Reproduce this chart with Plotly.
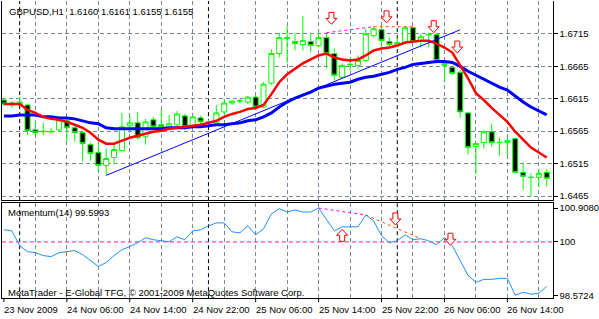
import plotly.graph_objects as go
import pandas as pd

# ---------------- data ----------------
times = pd.date_range("2009-11-23 22:00", periods=70, freq="h")

opens = [1.66129, 1.66052, 1.66052, 1.66052, 1.65671, 1.65641, 1.65648, 1.65671, 1.65809, 1.65702,
         1.65626, 1.65443, 1.65321, 1.65123, 1.65245, 1.65351, 1.65732, 1.65778, 1.65565, 1.65824,
         1.65748, 1.65687, 1.65748, 1.65885, 1.65732, 1.65854, 1.65778, 1.65778, 1.65946, 1.66083,
         1.66113, 1.66098, 1.66174, 1.66022, 1.66388, 1.66845, 1.67074, 1.67028, 1.66982, 1.67028,
         1.66967, 1.67089, 1.66845, 1.66479, 1.66670, 1.66662, 1.66738, 1.67120, 1.67211, 1.67028,
         1.66967, 1.67013, 1.67241, 1.67043, 1.67130, 1.67135, 1.66662, 1.66632, 1.66555, 1.65931,
         1.65412, 1.65473, 1.65641, 1.65473, 1.65473, 1.65534, 1.65016, 1.64935, 1.64940, 1.65016]
highs = [1.66159, 1.66113, 1.66174, 1.66068, 1.65809, 1.65778, 1.65702, 1.65885, 1.65839, 1.65732,
         1.65656, 1.65473, 1.65473, 1.65382, 1.65443, 1.65931, 1.65885, 1.65946, 1.65839, 1.65870,
         1.65976, 1.65900, 1.65961, 1.65915, 1.65885, 1.65885, 1.65824, 1.66052, 1.66144, 1.66129,
         1.66144, 1.66190, 1.66190, 1.66403, 1.66906, 1.67165, 1.67272, 1.67165, 1.67424, 1.67150,
         1.67196, 1.67165, 1.66921, 1.66693, 1.66769, 1.66815, 1.67226, 1.67257, 1.67272, 1.67089,
         1.67089, 1.67257, 1.67257, 1.67150, 1.67165, 1.67165, 1.66708, 1.66662, 1.66586, 1.65946,
         1.65473, 1.65671, 1.65763, 1.65549, 1.65549, 1.65549, 1.65168, 1.65001, 1.65062, 1.65062]
lows = [1.66037, 1.66007, 1.66037, 1.65595, 1.65595, 1.65595, 1.65610, 1.65641, 1.65488, 1.65488,
        1.65184, 1.65199, 1.65031, 1.64970, 1.65138, 1.65336, 1.65626, 1.65519, 1.65443, 1.65671,
        1.65671, 1.65671, 1.65717, 1.65671, 1.65702, 1.65748, 1.65732, 1.65763, 1.65900, 1.66052,
        1.66083, 1.66068, 1.66007, 1.66007, 1.66357, 1.66784, 1.66693, 1.66891, 1.66891, 1.66860,
        1.66937, 1.66616, 1.66434, 1.66464, 1.66586, 1.66616, 1.66723, 1.67089, 1.66937, 1.66937,
        1.66952, 1.66982, 1.67013, 1.66937, 1.66937, 1.66693, 1.66403, 1.66510, 1.65854, 1.65291,
        1.64985, 1.65382, 1.65412, 1.65275, 1.65275, 1.65001, 1.64741, 1.64650, 1.64787, 1.64802]
closes = [1.66068, 1.66083, 1.66098, 1.65656, 1.65626, 1.65648, 1.65641, 1.65824, 1.65702, 1.65626,
          1.65458, 1.65306, 1.65123, 1.65229, 1.65367, 1.65717, 1.65778, 1.65549, 1.65793, 1.65717,
          1.65717, 1.65763, 1.65915, 1.65717, 1.65870, 1.65793, 1.65793, 1.65931, 1.66083, 1.66113,
          1.66118, 1.66174, 1.66022, 1.66373, 1.66845, 1.67089, 1.67089, 1.66998, 1.67043, 1.66967,
          1.67089, 1.66845, 1.66510, 1.66662, 1.66677, 1.66738, 1.67150, 1.67226, 1.67043, 1.66982,
          1.67013, 1.67241, 1.67028, 1.67104, 1.67135, 1.66738, 1.66693, 1.66540, 1.65946, 1.65397,
          1.65458, 1.65641, 1.65473, 1.65478, 1.65504, 1.65016, 1.64955, 1.64940, 1.65001, 1.64924]

ma_fast = [1.66068, 1.66068, 1.66068, 1.65976, 1.65931, 1.65870, 1.65839, 1.65824, 1.65793, 1.65748,
           1.65702, 1.65626, 1.65519, 1.65458, 1.65458, 1.65504, 1.65549, 1.65580, 1.65610, 1.65641,
           1.65656, 1.65687, 1.65702, 1.65717, 1.65732, 1.65748, 1.65778, 1.65809, 1.65870, 1.65915,
           1.65946, 1.65991, 1.66007, 1.66052, 1.66220, 1.66403, 1.66525, 1.66616, 1.66693, 1.66754,
           1.66815, 1.66845, 1.66784, 1.66754, 1.66738, 1.66754, 1.66815, 1.66891, 1.66921, 1.66937,
           1.66967, 1.67013, 1.67028, 1.67043, 1.67043, 1.66998, 1.66937, 1.66860, 1.66662, 1.66464,
           1.66235, 1.66129, 1.66007, 1.65900, 1.65793, 1.65641, 1.65519, 1.65397, 1.65321, 1.65245]
ma_slow = [1.65885, 1.65885, 1.65900, 1.65900, 1.65900, 1.65870, 1.65870, 1.65854, 1.65854, 1.65839,
           1.65809, 1.65778, 1.65763, 1.65702, 1.65687, 1.65687, 1.65687, 1.65687, 1.65687, 1.65687,
           1.65687, 1.65702, 1.65702, 1.65702, 1.65717, 1.65717, 1.65732, 1.65748, 1.65748, 1.65763,
           1.65778, 1.65809, 1.65824, 1.65870, 1.65931, 1.66022, 1.66098, 1.66159, 1.66205, 1.66251,
           1.66312, 1.66342, 1.66373, 1.66388, 1.66403, 1.66449, 1.66479, 1.66494, 1.66525, 1.66555,
           1.66601, 1.66632, 1.66677, 1.66693, 1.66708, 1.66723, 1.66723, 1.66708, 1.66647, 1.66571,
           1.66510, 1.66449, 1.66388, 1.66327, 1.66281, 1.66190, 1.66098, 1.66022, 1.65961, 1.65900]

momentum = [100.324, 100.298, 99.899, 99.740, 99.714, 99.634, 99.607, 99.714, 99.740, 99.767,
            99.661, 99.501, 99.342, 99.448, 99.634, 99.793, 99.873, 99.979, 100.112, 100.059,
            100.032, 100.006, 100.138, 100.059, 100.298, 100.324, 100.430, 100.510, 100.510, 100.271,
            100.244, 100.430, 100.191, 100.351, 100.749, 100.890, 100.802, 100.855, 100.802, 100.802,
            100.908, 100.616, 100.298, 100.404, 100.404, 100.404, 100.722, 100.563, 100.165, 99.979,
            100.032, 100.191, 100.059, 100.085, 100.032, 99.926, 100.112, 99.899, 99.501, 99.103,
            98.917, 98.997, 98.997, 99.024, 99.024, 98.5724, 98.652, 98.599, 98.626, 98.811]

price_ticks = [1.6465, 1.6515, 1.6565, 1.6615, 1.6665, 1.6715]
mom_ticks = [98.5724, 100, 100.908]
mom_tick_text = ["98.5724", "100", "100.9080"]
mom_level = 100

date_label_times = ["2009-11-23 22:00", "2009-11-24 06:00", "2009-11-24 14:00", "2009-11-24 22:00",
                    "2009-11-25 06:00", "2009-11-25 14:00", "2009-11-25 22:00", "2009-11-26 06:00",
                    "2009-11-26 14:00"]
date_labels = ["23 Nov 2009", "24 Nov 06:00", "24 Nov 14:00", "24 Nov 22:00", "25 Nov 06:00",
               "25 Nov 14:00", "25 Nov 22:00", "26 Nov 06:00", "26 Nov 14:00"]

# chart objects (time, value)
trend_up_times = ["2009-11-24 11:00", "2009-11-26 08:00"]
trend_up_prices = [1.64970, 1.67210]
price_top_times = ["2009-11-25 15:00", "2009-11-25 21:00", "2009-11-26 02:00"]
price_top_prices = [1.67165, 1.67257, 1.67257]
mom_top_times = ["2009-11-25 14:00", "2009-11-25 20:00", "2009-11-26 03:00"]
mom_top_values = [100.908, 100.722, 100.085]

price_arrow_times = ["2009-11-25 15:00", "2009-11-25 22:00", "2009-11-26 04:00", "2009-11-26 07:00"]
price_arrow_levels = [1.67386, 1.67409, 1.67257, 1.66944]
mom_arrow_times = ["2009-11-25 17:00", "2009-11-25 23:00", "2009-11-26 06:00"]
mom_arrow_values = [100.178, 100.616, 100.072]
mom_arrow_kinds = ["up", "down", "down"]

title_text = "GBPUSD,H1  1.6160 1.6161 1.6155 1.6155"
ind_text = "Momentum(14) 99.5993"
copy_text = "MetaTrader - E-Global TFG, © 2001-2009 MetaQuotes Software Corp."

# ---------------- figure ----------------
W, H = 599, 319
FONT = "Liberation Sans"
FS = 9.5
GRID = "#778899"
DASH = "4px,3px"

idx = {t: i for i, t in enumerate(times)}
def pos(t):
    return idx[pd.Timestamp(t)]

x = list(range(len(times)))

def py(px):  # pixel row -> paper
    return 1 - px / H

def arrow_path(kind, dx):
    # hollow block arrow, pixel units relative to anchor (y positive = up)
    s = 1 if kind == "down" else -1
    pts = [(-2.5, 6), (2.5, 6), (2.5, 0), (5.5, 0), (0, -6), (-5.5, 0), (-2.5, 0)]
    return "M " + " L ".join(f"{px + dx},{py_ * s}" for px, py_ in pts) + " Z"

fig = go.Figure()

fig.add_trace(go.Candlestick(
    x=x, open=opens, high=highs, low=lows, close=closes,
    increasing=dict(line=dict(color="#00FF00", width=1), fillcolor="white"),
    decreasing=dict(line=dict(color="#00FF00", width=1), fillcolor="black"),
    whiskerwidth=0, xaxis="x", yaxis="y", hoverinfo="skip"))

fig.add_trace(go.Scatter(x=x, y=ma_slow, mode="lines", line=dict(color="#0000FF", width=3),
                         xaxis="x", yaxis="y"))
fig.add_trace(go.Scatter(x=x, y=ma_fast, mode="lines", line=dict(color="#FF0000", width=2.5),
                         xaxis="x", yaxis="y"))
fig.add_trace(go.Scatter(x=[pos(t) for t in trend_up_times], y=trend_up_prices, mode="lines",
                         line=dict(color="#0000FF", width=1), xaxis="x", yaxis="y"))
fig.add_trace(go.Scatter(x=[pos(t) for t in price_top_times[:2]], y=price_top_prices[:2], mode="lines",
                         line=dict(color="#FF00FF", width=1, dash="3px,3px"), xaxis="x", yaxis="y"))
fig.add_trace(go.Scatter(x=[pos(t) for t in price_top_times[1:]], y=price_top_prices[1:], mode="lines",
                         line=dict(color="#FF4500", width=1, dash="3px,3px"), xaxis="x", yaxis="y"))

fig.add_trace(go.Scatter(x=x, y=momentum, mode="lines", line=dict(color="#1E90FF", width=1),
                         xaxis="x2", yaxis="y2"))
fig.add_trace(go.Scatter(x=[pos(t) for t in mom_top_times[:2]], y=mom_top_values[:2], mode="lines",
                         line=dict(color="#FF00FF", width=1, dash="3px,3px"), xaxis="x2", yaxis="y2"))
fig.add_trace(go.Scatter(x=[pos(t) for t in mom_top_times[1:]], y=mom_top_values[1:], mode="lines",
                         line=dict(color="#FF4500", width=1, dash="3px,3px"), xaxis="x2", yaxis="y2"))

grid_vals = [i for i in x if i % 4 == 0 and i > 0]
xdom = [2 / W, 562 / W]
xrange_ = [-0.25, len(times) - 0.25]

common_x = dict(domain=xdom, range=xrange_, tickmode="array", tickvals=grid_vals, showticklabels=False,
                ticks="", showgrid=True, gridcolor=GRID, griddash=DASH, gridwidth=1, zeroline=False,
                showline=True, linecolor="black", linewidth=1, fixedrange=True)

fig.update_layout(
    width=W, height=H, margin=dict(l=0, r=0, t=0, b=0),
    paper_bgcolor="white", plot_bgcolor="white", showlegend=False,
    font=dict(family=FONT, size=FS, color="black"),
    boxgap=0.2, boxgroupgap=0.2,
    xaxis=dict(**common_x, anchor="y", mirror=False, rangeslider=dict(visible=False)),
    xaxis2=dict(**common_x, anchor="y2", matches="x", mirror=True),
    yaxis=dict(domain=[py(201), 1.0], range=[1.64589, 1.67653], side="right",
               tickmode="array", tickvals=price_ticks, ticktext=[f"{v:.4f}" for v in price_ticks],
               ticks="outside", ticklen=4, tickcolor="black", showgrid=True, gridcolor=GRID,
               griddash=DASH, zeroline=False, showline=True, mirror=True, linecolor="black",
               linewidth=1, fixedrange=True, tickfont=dict(family=FONT, size=FS)),
    yaxis2=dict(domain=[py(300), py(204)], range=[98.493, 101.041], side="right",
                tickmode="array", tickvals=mom_ticks, ticktext=mom_tick_text,
                ticks="outside", ticklen=4, tickcolor="black", showgrid=False, zeroline=False,
                showline=True, mirror=True, linecolor="black", linewidth=1, fixedrange=True,
                tickfont=dict(family=FONT, size=FS)),
)

shapes = []
# day separators
for i, t in enumerate(times):
    if t.hour == 0:
        for xr, yr in (("x", "y domain"), ("x2", "y2 domain")):
            shapes.append(dict(type="line", xref=xr, yref=yr, x0=i, x1=i, y0=0, y1=1,
                               line=dict(color="black", width=1, dash=DASH), layer="below"))
# level line on momentum
shapes.append(dict(type="line", xref="x2 domain", yref="y2", x0=0, x1=1, y0=mom_level, y1=mom_level,
                   line=dict(color="#FF1493", width=1, dash=DASH), layer="below"))
# bottom tick marks at date labels
for t in date_label_times:
    shapes.append(dict(type="line", xref="x2", yref="paper", x0=pos(t), x1=pos(t),
                       y0=py(300), y1=py(304), line=dict(color="black", width=1)))
# arrow objects
for t, lv in zip(price_arrow_times, price_arrow_levels):
    shapes.append(dict(type="path", xref="x", yref="y", xsizemode="pixel", ysizemode="pixel",
                       xanchor=pos(t), yanchor=lv, path=arrow_path("down", 5),
                       fillcolor="white", line=dict(color="#FF0000", width=1), layer="above"))
for t, lv, k in zip(mom_arrow_times, mom_arrow_values, mom_arrow_kinds):
    shapes.append(dict(type="path", xref="x2", yref="y2", xsizemode="pixel", ysizemode="pixel",
                       xanchor=pos(t), yanchor=lv, path=arrow_path(k, 0 if k == "up" else 6),
                       fillcolor="white", line=dict(color="#FF0000", width=1), layer="above"))
fig.update_layout(shapes=shapes)

ann = []
for t, lab in zip(date_label_times, date_labels):
    ann.append(dict(x=pos(t), y=py(311), xref="x2", yref="paper", text=lab, showarrow=False,
                    xanchor="left", yanchor="middle", xshift=-2, font=dict(family=FONT, size=FS)))
ann.append(dict(x=7 / W, y=py(11), xref="paper", yref="paper", text=title_text, showarrow=False,
                xanchor="left", yanchor="middle", font=dict(family=FONT, size=FS)))
ann.append(dict(x=6 / W, y=py(214), xref="paper", yref="paper", text=ind_text, showarrow=False,
                xanchor="left", yanchor="middle", font=dict(family=FONT, size=FS)))
ann.append(dict(x=6 / W, y=py(294), xref="paper", yref="paper", text=copy_text, showarrow=False,
                xanchor="left", yanchor="middle", font=dict(family=FONT, size=FS)))
fig.update_layout(annotations=ann)

fig.write_html("out.html")
